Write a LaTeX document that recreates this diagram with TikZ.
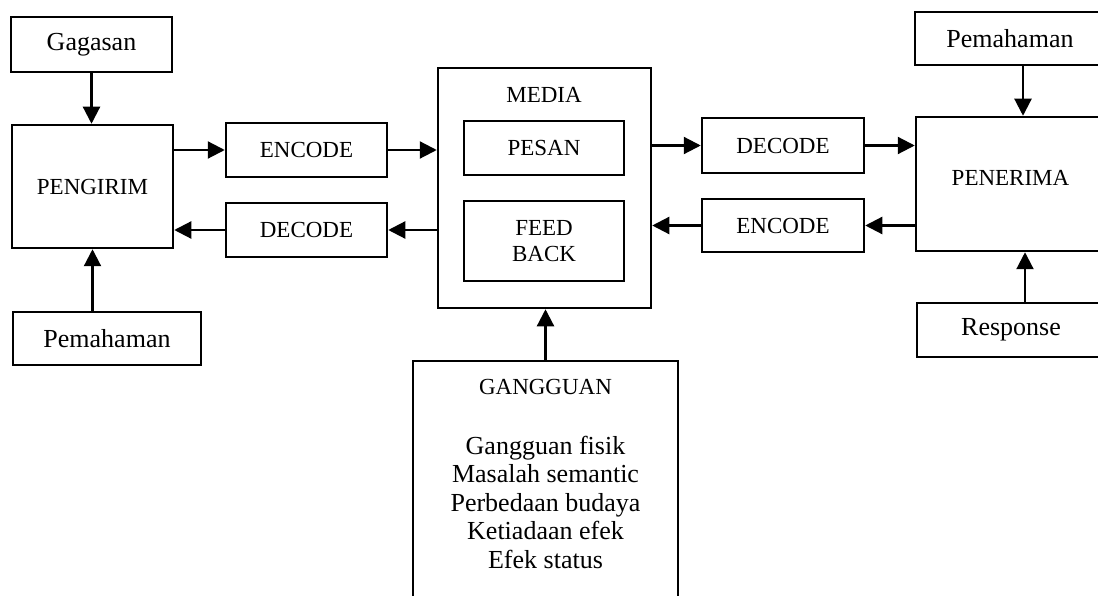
\documentclass[tikz,border=0pt]{standalone}
\usepackage{fontspec}
\setmainfont{Liberation Serif}
\usetikzlibrary{arrows.meta}
\tikzset{
  box/.style={draw, line width=2.5pt, rectangle, inner sep=0pt, font=\fontsize{23}{26}\selectfont},
  mixbox/.style={box, font=\fontsize{26}{29}\selectfont},
  capstext/.style={inner sep=0pt, font=\fontsize{23}{26}\selectfont},
  listtext/.style={inner sep=0pt, align=center, font=\fontsize{26}{28.5}\selectfont},
  arr/.style={line width=2.2pt, -{Triangle[length=17pt,width=17pt]}},
}
\begin{document}
\begin{tikzpicture}[x=1pt,y=-1pt]
\useasboundingbox (0,0) rectangle (1098,596);
\clip (0,0) rectangle (1098,596);
\fill[white] (0,0) rectangle (1098,596);

% left side
\node[mixbox, minimum width=161pt, minimum height=55pt] (gagasan) at (91.5,44.5) {Gagasan};
\node[box, minimum width=161pt, minimum height=123pt] (pengirim) at (92.5,186.5) {\raisebox{-6pt}{PENGIRIM}};
\node[mixbox, minimum width=188pt, minimum height=53pt] (pemL) at (107,338.5) {Pemahaman};
\node[box, minimum width=161pt, minimum height=54pt] (encL) at (306.5,150) {ENCODE};
\node[box, minimum width=161pt, minimum height=54pt] (decL) at (306.5,230) {DECODE};

% media
\node[box, minimum width=213pt, minimum height=240pt] (media) at (544.5,188) {};
\node[capstext] (mediaT) at (544,95) {MEDIA};
\node[box, minimum width=160pt, minimum height=54pt] (pesan) at (544,148) {PESAN};
\node[box, minimum width=160pt, minimum height=80pt, align=center] (feedback) at (544,241) {FEED\\BACK};

% gangguan
\node[box, minimum width=265pt, minimum height=259pt] (gangguan) at (545.5,490.5) {};
\node[capstext] (gangT) at (545.5,387) {GANGGUAN};
\node[listtext] (gangL) at (545.5,502) {Gangguan fisik\\Masalah semantic\\Perbedaan budaya\\Ketiadaan efek\\Efek status};

% right side
\node[box, minimum width=162pt, minimum height=55pt] (decR) at (783,145.5) {DECODE};
\node[box, minimum width=162pt, minimum height=53pt] (encR) at (783,225.5) {ENCODE};
\node[box, minimum width=189pt, minimum height=134pt] (penerima) at (1010.5,184) {\raisebox{12pt}{PENERIMA}};
\node[mixbox, minimum width=190pt, minimum height=53pt] (pemR) at (1010,38.5) {Pemahaman};
\node[mixbox, minimum width=188pt, minimum height=54pt] (response) at (1011,330) {Response};

% connectors
\draw[arr] (gagasan.south) -- (gagasan.south |- pengirim.north);
\draw[arr] (pengirim.south |- pemL.north) -- (pengirim.south);
\draw[arr] (encL.west -| pengirim.east) -- (encL.west);
\draw[arr] (encL.east) -- (encL.east -| media.west);
\draw[arr] (decL.east -| media.west) -- (decL.east);
\draw[arr] (decL.west) -- (decL.west -| pengirim.east);
\draw[arr] (decR.west -| media.east) -- (decR.west);
\draw[arr] (decR.east) -- (decR.east -| penerima.west);
\draw[arr] (encR.east -| penerima.west) -- (encR.east);
\draw[arr] (encR.west) -- (encR.west -| media.east);
\draw[arr] ([xshift=13pt]pemR.south) -- ([xshift=13pt]pemR.south |- penerima.north);
\draw[arr] ([xshift=14pt]response.north) -- ([xshift=14pt]response.north |- penerima.south);
\draw[arr] (gangguan.north) -- (gangguan.north |- media.south);
\end{tikzpicture}
\end{document}
